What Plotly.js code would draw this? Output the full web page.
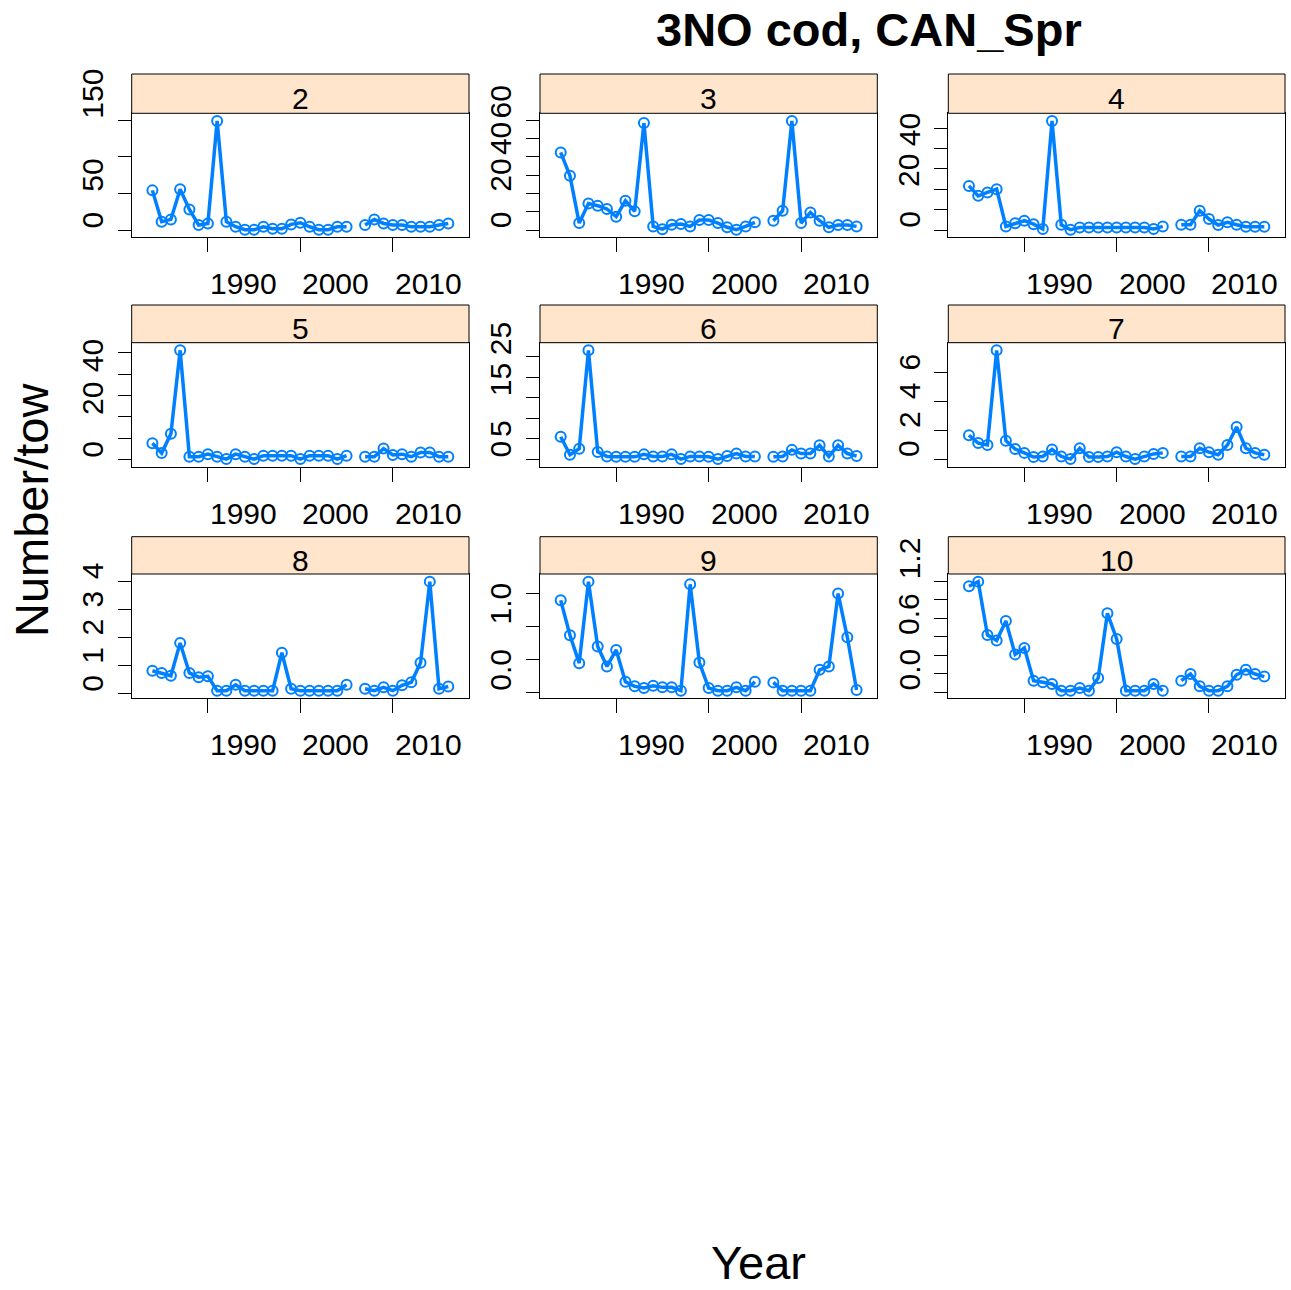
<!DOCTYPE html>
<html>
<head>
<meta charset="utf-8">
<script src="https://cdn.plot.ly/plotly-3.0.1.min.js"></script>
<style>
  html, body { margin: 0; padding: 0; background: #ffffff; }
  #chart { width: 1291px; height: 1290px; }
</style>
</head>
<body>
<div id="chart"></div>
<script>
// Survey years (no spring survey index in 2006)
const years = [1984, 1985, 1986, 1987, 1988, 1989, 1990, 1991, 1992, 1993, 1994,
               1995, 1996, 1997, 1998, 1999, 2000, 2001, 2002, 2003, 2004, 2005,
               2006, 2007, 2008, 2009, 2010, 2011, 2012, 2013, 2014, 2015, 2016];

// Mean number per tow by age
const age2  = [54.5, 11.8, 15, 56, 28.6, 7.3, 9.5, 149, 11.8, 5, 1, 1, 5, 2.3, 2.3, 8.2, 10.5, 5, 1, 1, 5, 5,
               null, 7.3, 15, 9.5, 7.3, 7.3, 5, 5, 5, 7.3, 9.5];
const age3  = [42.4, 29.6, 3.8, 14.5, 13.3, 11.5, 7.3, 16, 10.2, 58.4, 2, 0.5, 2.9, 3.3, 2, 5.5, 5.5, 3.8, 1.5, 0.2, 2, 4.2,
               null, 5.1, 10.5, 59.6, 3.8, 9.6, 5.1, 1.5, 2.7, 2.7, 2];
const age4  = [21.7, 16.8, 18.5, 20.1, 1.8, 3.4, 4.6, 2.9, 0.5, 53.6, 2.6, 0.2, 1.3, 1.3, 1.3, 1.3, 1.3, 1.3, 1.3, 1.3, 0.5, 1.8,
               null, 2.6, 2.6, 9.5, 5.4, 2.5, 3.8, 2.6, 1.6, 1.6, 1.6];
const age5  = [7.7, 3.1, 12.2, 51.2, 1.4, 1.4, 2.6, 1.4, 0.3, 2.6, 1.4, 0.3, 1.9, 1.9, 1.9, 1.9, 0.3, 1.9, 1.9, 1.9, 0.3, 1.9,
               null, 1.4, 1.4, 5.2, 2.2, 2.6, 1.4, 3.4, 3.4, 1.4, 1.4];
const age6  = [5.5, 1.1, 2.6, 26.6, 1.8, 0.7, 0.6, 0.6, 0.6, 1.2, 0.7, 0.7, 1.2, 0.05, 0.7, 0.7, 0.6, 0.05, 0.8, 1.4, 0.7, 0.7,
               null, 0.6, 0.7, 2.3, 1.4, 1.4, 3.4, 0.7, 3.4, 1.4, 0.8];
const age7  = [1.67, 1.13, 1.0, 7.56, 1.29, 0.72, 0.45, 0.16, 0.2, 0.68, 0.2, 0.02, 0.77, 0.16, 0.16, 0.2, 0.5, 0.2, 0.02, 0.2, 0.38, 0.45,
               null, 0.2, 0.2, 0.77, 0.5, 0.32, 1.0, 2.24, 0.77, 0.45, 0.32];
const age8  = [0.82, 0.74, 0.64, 1.81, 0.74, 0.59, 0.62, 0.11, 0.11, 0.32, 0.11, 0.11, 0.11, 0.11, 1.46, 0.18, 0.11, 0.11, 0.11, 0.11, 0.11, 0.32,
               null, 0.18, 0.11, 0.23, 0.11, 0.3, 0.41, 1.1, 3.99, 0.18, 0.26];
const age9  = [1.40, 0.87, 0.45, 1.68, 0.70, 0.40, 0.65, 0.17, 0.10, 0.075, 0.11, 0.085, 0.085, 0.035, 1.64, 0.46, 0.075, 0.035, 0.035, 0.085, 0.035, 0.17,
               null, 0.16, 0.035, 0.035, 0.035, 0.035, 0.35, 0.40, 1.50, 0.84, 0.045];
const age10 = [1.146, 1.196, 0.62, 0.56, 0.77, 0.41, 0.48, 0.126, 0.108, 0.09, 0.018, 0.018, 0.047, 0.018, 0.155, 0.854, 0.577, 0.018, 0.018, 0.018, 0.09, 0.018,
               null, 0.126, 0.198, 0.065, 0.018, 0.018, 0.065, 0.19, 0.245, 0.198, 0.17];

const ageLabels = ['2', '3', '4', '5', '6', '7', '8', '9', '10'];
const seriesByAge = [age2, age3, age4, age5, age6, age7, age8, age9, age10];

// Axis ticks and the subset of ticks carrying a label
const xTickVals = [1990, 2000, 2010];
const xTickText = ['1990', '2000', '2010'];
const yTickVals = [
  [0, 50, 100, 150],
  [0, 10, 20, 30, 40, 50, 60],
  [0, 10, 20, 30, 40, 50],
  [0, 10, 20, 30, 40, 50],
  [0, 5, 10, 15, 20, 25],
  [0, 2, 4, 6],
  [0, 1, 2, 3, 4],
  [0, 0.5, 1.0, 1.5],
  [0, 0.2, 0.4, 0.6, 0.8, 1.0, 1.2]
];
const yLabelVals = [
  [0, 50, 150],
  [0, 20, 40, 60],
  [0, 20, 40],
  [0, 20, 40],
  [0, 5, 15, 25],
  [0, 2, 4, 6],
  [0, 1, 2, 3, 4],
  [0, 1.0],
  [0, 0.6, 1.2]
];
const yLabelText = [
  ['0', '50', '150'],
  ['0', '20', '40', '60'],
  ['0', '20', '40'],
  ['0', '20', '40'],
  ['0', '5', '15', '25'],
  ['0', '2', '4', '6'],
  ['0', '1', '2', '3', '4'],
  ['0.0', '1.0'],
  ['0.0', '0.6', '1.2']
];

const titleText = '<b>3NO cod, CAN_Spr</b>';
const xTitle = 'Year';
const yTitle = 'Number/tow';

// ---- page geometry (pixels) ----
const W = 1291, H = 1290;
const colLeft = [131.7, 540, 948.3];
const colRight = [469, 877.3, 1285];
const rowTop = [113.3, 342.7, 574];
const rowBottom = [237.3, 466.7, 698.3];
const stripTop = [74, 305, 536.7];
const PX = v => v / W;
const PY = v => 1 - v / H;

const FONT = 'Liberation Sans, Arial, Helvetica, sans-serif';
const BLUE = '#0080FF';
const PAD = 0.07;

// lattice-style range: data extent plus 7% on each side
function paddedRange(vals) {
  const f = vals.filter(v => v !== null);
  const lo = Math.min(...f), hi = Math.max(...f);
  const d = hi - lo;
  return [lo - PAD * d, hi + PAD * d];
}

const xr = paddedRange([Math.min(...years), Math.max(...years)]);

const traces = [];
const layout = {
  width: W, height: H,
  margin: {l: 0, r: 0, t: 0, b: 0},
  paper_bgcolor: '#ffffff',
  plot_bgcolor: '#ffffff',
  showlegend: false,
  font: {family: FONT, color: '#000000'},
  shapes: [],
  annotations: []
};

seriesByAge.forEach((vals, i) => {
  const r = Math.floor(i / 3), c = i % 3;
  const sfx = i === 0 ? '' : String(i + 1);
  const xa = 'x' + sfx, ya = 'y' + sfx;

  traces.push({
    type: 'scatter',
    mode: 'lines+markers',
    x: years,
    y: vals,
    xaxis: xa,
    yaxis: ya,
    connectgaps: false,
    cliponaxis: false,
    line: {color: BLUE, width: 3.5},
    marker: {symbol: 'circle-open', size: 10, color: BLUE, line: {color: BLUE, width: 2}},
    hoverinfo: 'x+y'
  });

  const yr = paddedRange(vals);

  layout['xaxis' + sfx] = {
    domain: [PX(colLeft[c]), PX(colRight[c])],
    anchor: ya,
    range: xr,
    tickvals: xTickVals,
    showticklabels: false,
    ticks: 'outside', ticklen: 14, tickwidth: 1, tickcolor: '#000',
    showline: true, mirror: true, linecolor: '#000', linewidth: 1,
    showgrid: false, zeroline: false, fixedrange: true
  };
  layout['yaxis' + sfx] = {
    domain: [PY(rowBottom[r]), PY(rowTop[r])],
    anchor: xa,
    range: yr,
    tickvals: yTickVals[i],
    showticklabels: false,
    ticks: 'outside', ticklen: 13, tickwidth: 1, tickcolor: '#000',
    showline: true, mirror: true, linecolor: '#000', linewidth: 1,
    showgrid: false, zeroline: false, fixedrange: true
  };

  // strip with the age label
  layout.shapes.push({
    type: 'rect', xref: 'paper', yref: 'paper',
    x0: PX(colLeft[c]), x1: PX(colRight[c]),
    y0: PY(rowTop[r]), y1: PY(stripTop[r]),
    fillcolor: '#FFE5CC', line: {color: '#000', width: 1}, layer: 'above'
  });
  layout.annotations.push({
    xref: 'paper', yref: 'paper',
    x: PX((colLeft[c] + colRight[c]) / 2),
    y: PY((stripTop[r] + rowTop[r]) / 2 + 5),
    xanchor: 'center', yanchor: 'middle',
    text: ageLabels[i], showarrow: false,
    font: {family: FONT, size: 30, color: '#000'}
  });

  // y tick labels, rotated, starting at their tick
  yLabelVals[i].forEach((v, k) => {
    layout.annotations.push({
      xref: 'paper', yref: ya,
      x: PX(colLeft[c] - 39.2), y: v,
      xanchor: 'center', yanchor: 'bottom',
      textangle: -90,
      text: yLabelText[i][k], showarrow: false,
      font: {family: FONT, size: 30, color: '#000'}
    });
  });

  // x tick labels, starting at their tick
  xTickVals.forEach((v, k) => {
    layout.annotations.push({
      xref: xa, yref: 'paper',
      x: v, y: PY(rowBottom[r] + 46.5),
      xanchor: 'left', yanchor: 'middle',
      text: xTickText[k], showarrow: false,
      font: {family: FONT, size: 30, color: '#000'}
    });
  });
});

layout.annotations.push({
  xref: 'paper', yref: 'paper', x: PX(868.5), y: PY(29.5),
  xanchor: 'center', yanchor: 'middle', showarrow: false,
  text: titleText, font: {family: FONT, size: 47, color: '#000'}
});
layout.annotations.push({
  xref: 'paper', yref: 'paper', x: PX(758), y: 0,
  xanchor: 'center', yanchor: 'bottom', showarrow: false, borderpad: 0,
  text: xTitle, font: {family: FONT, size: 47, color: '#000'}
});
layout.annotations.push({
  xref: 'paper', yref: 'paper', x: PX(31), y: PY(510),
  xanchor: 'center', yanchor: 'middle', showarrow: false, textangle: -90,
  text: yTitle, font: {family: FONT, size: 47, color: '#000'}
});

Plotly.newPlot('chart', traces, layout, {displayModeBar: false, staticPlot: true});
</script>
</body>
</html>
